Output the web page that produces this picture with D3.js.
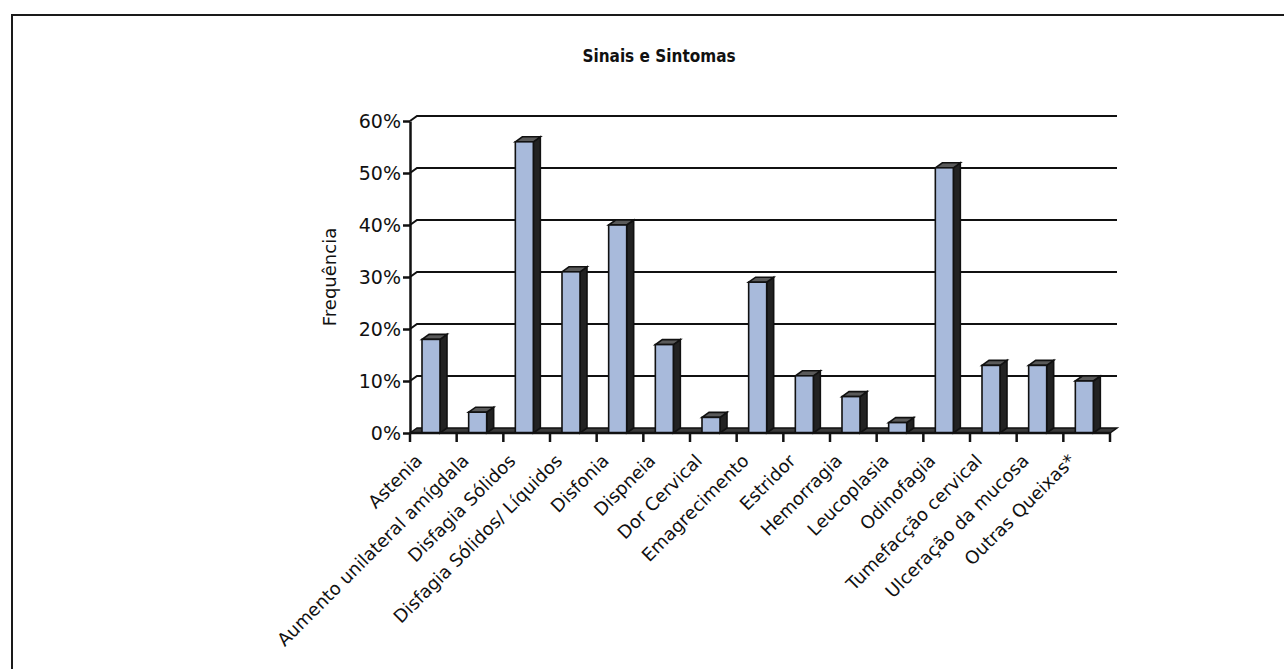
<!DOCTYPE html>
<html>
<head>
<meta charset="utf-8"/>
<script src="https://d3js.org/d3.v7.min.js"></script>
<style type="text/css">
body { margin: 0; background: #fff; }
.frame { fill: none; stroke: #1a1a1a; stroke-width: 2px; }
.grid { fill: none; stroke: #111; stroke-width: 2px; }
.bar-front { fill: #a8badb; stroke: #111; stroke-width: 1.6px; }
.bar-side { fill: #222; stroke: #111; stroke-width: 1.6px; }
.bar-top { fill: #5a5a5a; stroke: #111; stroke-width: 1.6px; }
.floor { fill: #3a3a3a; stroke: #111; stroke-width: 1.5px; }
.axis-line { stroke: #111; stroke-width: 2.5px; }
.label { font-family: "DejaVu Sans", Verdana, sans-serif; fill: #111; }
.title { font-family: "DejaVu Sans Condensed", "DejaVu Sans", sans-serif; font-stretch: condensed; font-weight: bold; fill: #111; }
</style>
</head>
<body>
<script>

var categories = ["Astenia", "Aumento unilateral amígdala", "Disfagia Sólidos",
  "Disfagia Sólidos/ Líquidos", "Disfonia", "Dispneia", "Dor Cervical",
  "Emagrecimento", "Estridor", "Hemorragia", "Leucoplasia", "Odinofagia",
  "Tumefacção cervical", "Ulceração da mucosa", "Outras Queixas*"];
var values = [0.18, 0.04, 0.56, 0.31, 0.40, 0.17, 0.03, 0.29, 0.11, 0.07,
  0.02, 0.51, 0.13, 0.13, 0.10];
var yTicks = [0, 0.1, 0.2, 0.3, 0.4, 0.5, 0.6];

var width = 1284, height = 669;
var depthX = 7, depthY = 5;     // fake 3d depth
var barW = 18;

var svg = d3.select("body").append("svg")
    .attr("width", width)
    .attr("height", height);

// outer frame (only top and left edges are visible in the scan)
svg.append("path")
    .attr("class", "frame")
    .attr("d", "M12,669 L12,15 L1284,15");

svg.append("text")
    .attr("class", "title")
    .attr("x", 659)
    .attr("y", 62)
    .attr("text-anchor", "middle")
    .style("font-size", "17px")
    .text("Sinais e Sintomas");

var x = d3.scaleBand()
    .domain(categories)
    .range([410, 1110])
    .padding(0);

var y = d3.scaleLinear()
    .domain([0, 0.6])
    .range([433, 121]);

var x0 = x.range()[0], x1 = x.range()[1], yBase = y(0);

// back wall gridlines
svg.append("g").selectAll("path")
    .data(yTicks.filter(function(d) { return d > 0; }))
    .enter().append("path")
    .attr("class", "grid")
    .attr("d", function(d) {
      return "M" + x0 + "," + y(d) + " L" + (x0 + depthX) + "," + (y(d) - depthY) +
             " L" + (x1 + depthX) + "," + (y(d) - depthY);
    });

// floor
svg.append("path")
    .attr("class", "floor")
    .attr("d", "M" + x0 + "," + yBase + " L" + (x0 + depthX) + "," + (yBase - depthY) +
               " L" + (x1 + depthX) + "," + (yBase - depthY) + " L" + x1 + "," + yBase + "Z");

// bars
var bars = svg.append("g").selectAll("g")
    .data(categories.map(function(c, i) { return {cat: c, v: values[i]}; }))
    .enter().append("g");

function bx(d) { return x(d.cat) + 12; }

bars.append("path")
    .attr("class", "bar-side")
    .attr("d", function(d) {
      var l = bx(d) + barW, t = y(d.v);
      return "M" + l + "," + yBase + " L" + (l + depthX) + "," + (yBase - depthY) +
             " L" + (l + depthX) + "," + (t - depthY) + " L" + l + "," + t + "Z";
    });

bars.append("path")
    .attr("class", "bar-top")
    .attr("d", function(d) {
      var l = bx(d), t = y(d.v);
      return "M" + l + "," + t + " L" + (l + depthX) + "," + (t - depthY) +
             " L" + (l + barW + depthX) + "," + (t - depthY) + " L" + (l + barW) + "," + t + "Z";
    });

bars.append("rect")
    .attr("class", "bar-front")
    .attr("x", bx)
    .attr("y", function(d) { return y(d.v); })
    .attr("width", barW)
    .attr("height", function(d) { return yBase - y(d.v); });

// y axis
var yAxis = svg.append("g")
    .attr("transform", "translate(" + x0 + ",0)")
    .call(d3.axisLeft(y).tickValues(yTicks).tickFormat(d3.format(".0%")).tickSize(7).tickSizeOuter(0));
yAxis.select(".domain").attr("stroke", "#111").attr("stroke-width", 2.5);
yAxis.selectAll(".tick line").attr("stroke", "#111").attr("stroke-width", 2.5);
yAxis.selectAll(".tick text")
    .attr("class", "label")
    .attr("x", -9)
    .style("font-size", "19px");

// x axis line and boundary ticks
svg.append("line")
    .attr("class", "axis-line")
    .attr("x1", x0).attr("x2", x1)
    .attr("y1", yBase).attr("y2", yBase);

var bounds = categories.map(function(c) { return x(c); }).concat([x1]);
svg.append("g").selectAll("line")
    .data(bounds)
    .enter().append("line")
    .attr("class", "axis-line")
    .attr("x1", function(d) { return d; })
    .attr("x2", function(d) { return d; })
    .attr("y1", yBase)
    .attr("y2", yBase + 9);

svg.append("g").selectAll("text")
    .data(categories)
    .enter().append("text")
    .attr("class", "label")
    .attr("text-anchor", "end")
    .style("font-size", "18px")
    .attr("transform", function(d) {
      return "translate(" + (x(d) + x.bandwidth() / 2 - 10) + "," + 462 + ") rotate(-45)";
    })
    .text(function(d) { return d; });

svg.append("text")
    .attr("class", "label")
    .attr("text-anchor", "middle")
    .style("font-size", "18px")
    .attr("transform", "translate(336,277) rotate(-90)")
    .text("Frequência");

</script>
</body>
</html>
